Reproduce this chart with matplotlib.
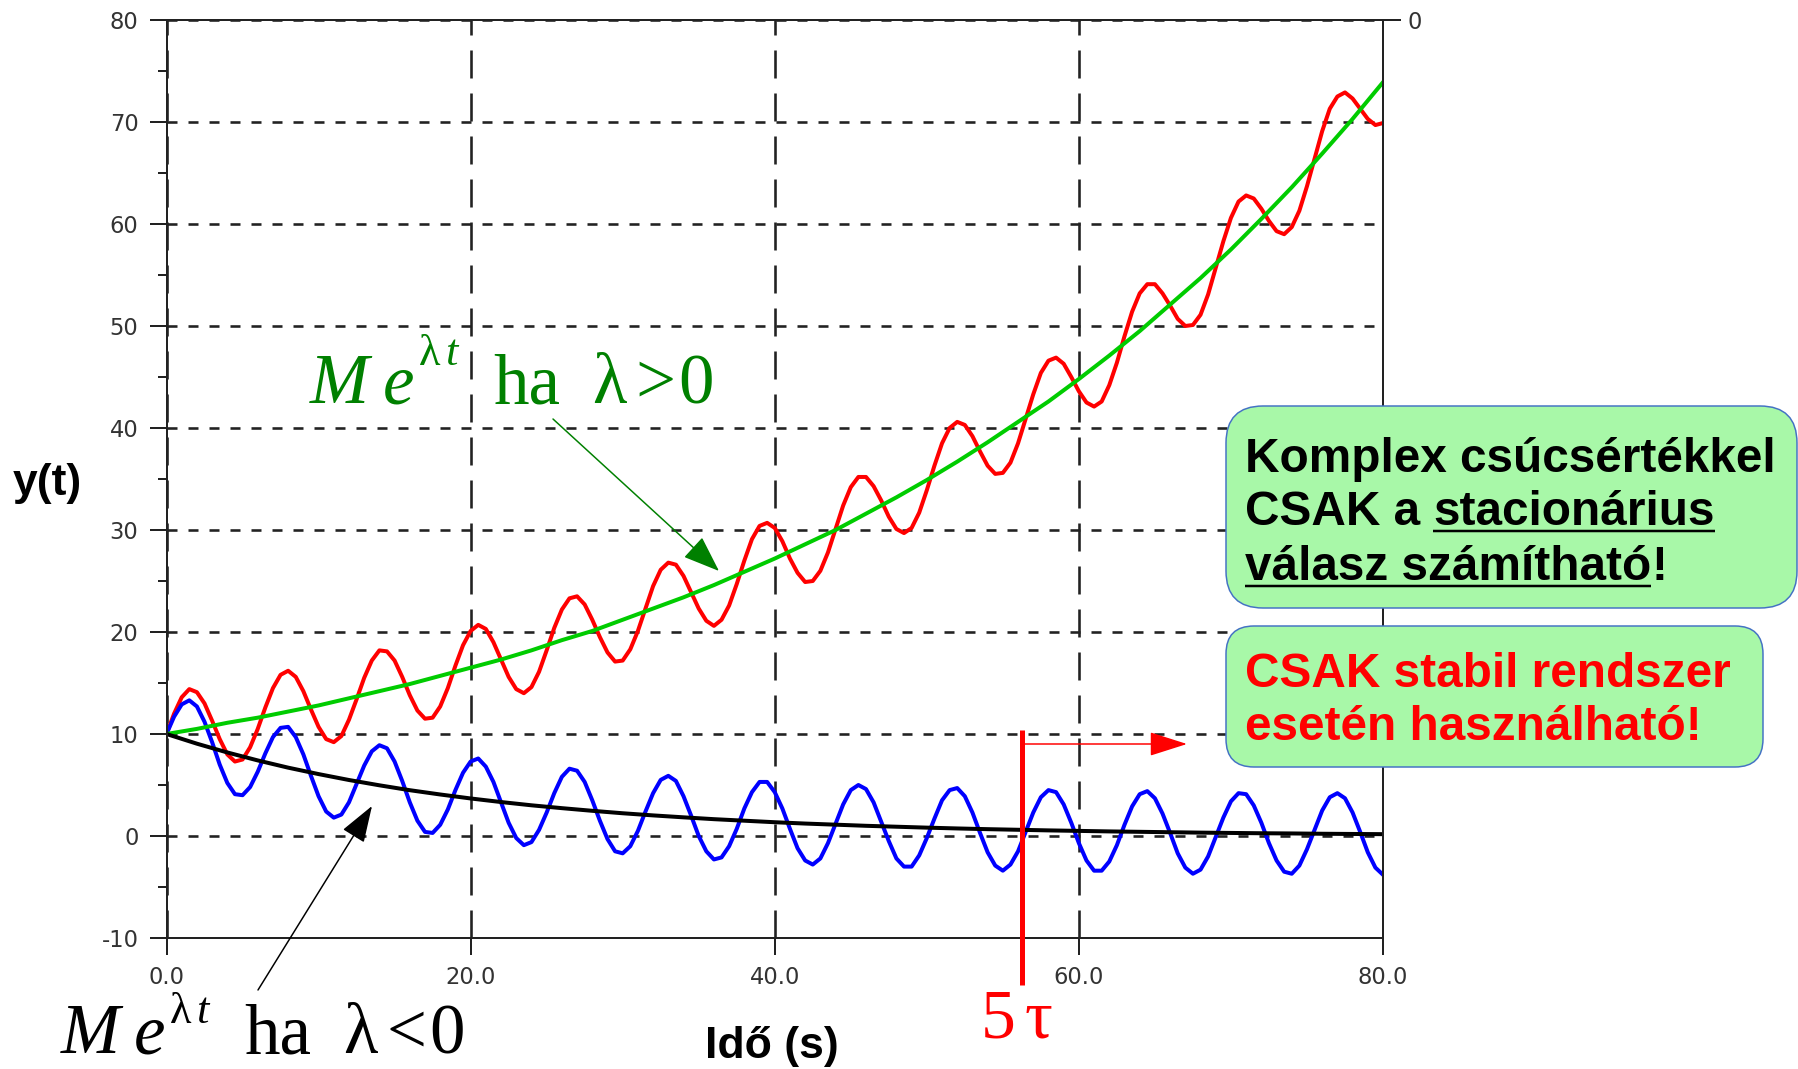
import numpy as np
import matplotlib
matplotlib.use('Agg')
import matplotlib.pyplot as plt
from matplotlib.lines import Line2D
from matplotlib.patches import FancyBboxPatch, FancyArrowPatch
from matplotlib.transforms import IdentityTransform

W, H, DPI = 1798, 1069, 100
PX = 72.0 / DPI  # points per pixel
plt.rcParams['lines.scale_dashes'] = False
plt.rcParams['font.family'] = ['DejaVu Sans']
plt.rcParams['axes.unicode_minus'] = False

# ---- data ----
time_fast = np.linspace(0, 80, 161)   # sample times of the oscillating curves (s)
time_slow = np.linspace(0, 80, 41)    # sample times of the envelope curves (s)

red_osc = [10.0, 12.0, 13.6, 14.4, 14.1, 13.0, 11.3, 9.5, 8.0, 7.3,
           7.5, 8.7, 10.5, 12.6, 14.5, 15.8, 16.2, 15.6, 14.2, 12.4,
           10.7, 9.5, 9.2, 9.8, 11.4, 13.4, 15.5, 17.2, 18.2, 18.1,
           17.2, 15.6, 13.8, 12.3, 11.5, 11.6, 12.7, 14.5, 16.7, 18.7,
           20.1, 20.7, 20.3, 19.0, 17.3, 15.6, 14.4, 14.0, 14.6, 16.1,
           18.2, 20.4, 22.2, 23.3, 23.5, 22.7, 21.2, 19.5, 18.0, 17.1,
           17.2, 18.3, 20.1, 22.3, 24.5, 26.1, 26.8, 26.6, 25.5, 23.9,
           22.3, 21.1, 20.6, 21.2, 22.6, 24.7, 27.0, 29.1, 30.4, 30.7,
           30.2, 28.9, 27.2, 25.8, 24.9, 25.0, 26.0, 27.8, 30.1, 32.4,
           34.2, 35.2, 35.2, 34.3, 32.9, 31.3, 30.1, 29.7, 30.2, 31.7,
           33.9, 36.3, 38.5, 40.0, 40.6, 40.3, 39.2, 37.7, 36.3, 35.5,
           35.6, 36.6, 38.5, 40.9, 43.3, 45.4, 46.6, 46.9, 46.3, 45.0,
           43.6, 42.5, 42.1, 42.6, 44.2, 46.4, 49.0, 51.4, 53.2, 54.1,
           54.1, 53.2, 52.0, 50.7, 50.0, 50.1, 51.1, 53.1, 55.7, 58.3,
           60.6, 62.2, 62.8, 62.5, 61.5, 60.3, 59.3, 59.0, 59.7, 61.3,
           63.7, 66.4, 69.1, 71.3, 72.5, 72.9, 72.3, 71.3, 70.3, 69.7,
           69.9]

blue_osc = [10.0, 11.7, 12.9, 13.3, 12.7, 11.2, 9.2, 7.0, 5.2, 4.1,
            4.0, 4.8, 6.3, 8.1, 9.7, 10.6, 10.7, 9.7, 8.0, 5.9,
            3.9, 2.4, 1.8, 2.1, 3.3, 5.1, 6.9, 8.3, 8.9, 8.6,
            7.3, 5.4, 3.3, 1.5, 0.4, 0.3, 1.1, 2.6, 4.5, 6.2,
            7.3, 7.6, 6.8, 5.3, 3.3, 1.3, -0.2, -0.9, -0.6, 0.6,
            2.3, 4.2, 5.8, 6.6, 6.4, 5.3, 3.5, 1.5, -0.3, -1.5,
            -1.7, -1.0, 0.5, 2.4, 4.2, 5.5, 5.9, 5.4, 3.9, 2.0,
            0.0, -1.5, -2.3, -2.1, -1.0, 0.7, 2.7, 4.3, 5.3, 5.3,
            4.3, 2.7, 0.7, -1.2, -2.4, -2.8, -2.2, -0.7, 1.2, 3.1,
            4.5, 5.0, 4.6, 3.3, 1.4, -0.5, -2.2, -3.0, -3.0, -1.9,
            -0.2, 1.7, 3.5, 4.5, 4.7, 3.9, 2.3, 0.3, -1.6, -2.9,
            -3.4, -2.8, -1.5, 0.4, 2.3, 3.8, 4.5, 4.3, 3.1, 1.3,
            -0.7, -2.4, -3.4, -3.4, -2.5, -0.9, 1.1, 2.9, 4.1, 4.4,
            3.7, 2.2, 0.3, -1.7, -3.1, -3.7, -3.3, -2.0, -0.1, 1.8,
            3.4, 4.2, 4.1, 3.0, 1.3, -0.7, -2.4, -3.5, -3.7, -2.9,
            -1.3, 0.6, 2.5, 3.8, 4.2, 3.7, 2.3, 0.4, -1.6, -3.1,
            -3.8]

green_env = [10.0, 10.5, 11.1, 11.6, 12.2, 12.8, 13.5, 14.2, 14.9, 15.7,
             16.5, 17.3, 18.2, 19.2, 20.1, 21.2, 22.3, 23.4, 24.6, 25.9,
             27.2, 28.6, 30.0, 31.6, 33.2, 34.9, 36.7, 38.6, 40.6, 42.6,
             44.8, 47.1, 49.5, 52.1, 54.7, 57.5, 60.5, 63.6, 66.9, 70.3,
             73.9]

black_env = [10.00, 9.05, 8.19, 7.41, 6.70, 6.07, 5.49, 4.97, 4.49, 4.07,
             3.68, 3.33, 3.01, 2.73, 2.47, 2.23, 2.02, 1.83, 1.65, 1.50,
             1.35, 1.22, 1.11, 1.00, 0.91, 0.82, 0.74, 0.67, 0.61, 0.55,
             0.50, 0.45, 0.41, 0.37, 0.33, 0.30, 0.27, 0.25, 0.22, 0.20,
             0.18]

x_ticks = [0, 20, 40, 60, 80]
x_labels = ['0.0', '20.0', '40.0', '60.0', '80.0']
y_ticks = [-10, 0, 10, 20, 30, 40, 50, 60, 70, 80]
y_labels = ['-10', '0', '10', '20', '30', '40', '50', '60', '70', '80']

# ---- figure ----
fig = plt.figure(figsize=(W / DPI, H / DPI), dpi=DPI)
L, R, T, B = 166.5, 1383, 20, 938
ax = fig.add_axes([L / W, 1 - B / H, (R - L) / W, (B - T) / H])
ax.plot(time_fast, red_osc, color='#ff0000', lw=4 * PX, zorder=3)
ax.plot(time_slow, green_env, color='#00cc00', lw=4 * PX, zorder=4)
ax.plot(time_fast, blue_osc, color='#0000ff', lw=4 * PX, zorder=3)
ax.plot(time_slow, black_env, color='#000000', lw=4 * PX, zorder=4)
ax.set_xlim(0, 80)
ax.set_ylim(-10, 80)
ax.set_xticks(x_ticks)
ax.set_xticklabels(x_labels)
ax.set_yticks(y_ticks)
ax.set_yticklabels(y_labels)
ax.set_yticks([v + 5 for v in y_ticks[:-1]], minor=True)
ax.tick_params(axis='both', which='major', direction='out', length=17 * PX,
               width=2 * PX, color='#222222', labelsize=16.3, labelcolor='#333333', pad=8)
ax.tick_params(axis='y', which='minor', direction='out', length=9 * PX,
               width=2 * PX, color='#222222')
for s in ax.spines.values():
    s.set_linewidth(2 * PX)
    s.set_color('#222222')
ax.yaxis.grid(True, linestyle=(0, (10 * PX, 11 * PX)), color='#222222', lw=2.6 * PX)
ax.xaxis.grid(True, linestyle=(0, (28 * PX, 15 * PX)), color='#222222', lw=2.6 * PX)

ax2 = ax.twinx()
ax2.set_ylim(-10, 80)
ax2.set_yticks([80])
ax2.set_yticklabels(['0'])
ax2.tick_params(axis='y', direction='out', length=18 * PX, width=2 * PX, color='#222222',
                labelsize=16.3, labelcolor='#333333', pad=5)
for s in ax2.spines.values():
    s.set_linewidth(2 * PX)
    s.set_color('#222222')

def ft(x, y, s, **kw):
    return fig.text(x / W, 1 - y / H, s, **kw)

ft(13, 495, 'y(t)', family='Liberation Sans', weight='bold', fontsize=32, va='baseline', ha='left')
ft(772, 1058, 'Idő (s)', family='Liberation Sans', weight='bold', fontsize=32, va='baseline', ha='center')

def formula(x0, base, color, rel, sup):
    pieces = [('M', 0, 0, 'italic', 51), ('e', 73, 0, 'italic', 51),
              ('λ', 109, sup, 'normal', 32), ('t', 135, sup, 'italic', 32),
              ('ha', 183, 0, 'normal', 51), ('λ', 282, 0, 'normal', 51),
              (rel, 325, 0, 'normal', 51), ('0', 368, 0, 'normal', 51)]
    for s, dx, dy, style, size in pieces:
        ft(x0 + dx, base - dy, s, family='Liberation Serif', style=style,
           fontsize=size, color=color, va='baseline', ha='left')

formula(310, 403, '#008000', '>', 38)
formula(61, 1053, '#000000', '<', 30)

ft(981, 1037, '5', family='Liberation Serif', fontsize=50, color='#ff0000', va='baseline', ha='left')
ft(1025, 1037, 'τ', family='Liberation Serif', fontsize=50, color='#ff0000', va='baseline', ha='left')

fig.add_artist(Line2D([1022, 1022], [H - 730, H - 985], transform=IdentityTransform(),
                      lw=5 * PX, color='#ff0000', solid_capstyle='butt'))

def arrow(x0, y0, x1, y1, color, lw, hl, hw):
    fig.add_artist(FancyArrowPatch((x0, H - y0), (x1, H - y1), transform=IdentityTransform(),
                                   arrowstyle=f'-|>,head_length={hl * PX},head_width={hw * PX}',
                                   mutation_scale=1, lw=lw * PX, color=color,
                                   shrinkA=0, shrinkB=0))

arrow(553, 419, 719, 571, '#008000', 1.5, 32, 12)
arrow(258, 990, 372, 806, '#000000', 1.5, 32, 11)
arrow(1024, 744, 1187, 744, '#ff0000', 1.5, 33, 10.5)

def box(x0, y0, x1, y1, r):
    fig.add_artist(FancyBboxPatch((x0, H - y1), x1 - x0, y1 - y0,
                                  boxstyle=f'round,pad=0,rounding_size={r}',
                                  transform=IdentityTransform(), facecolor='#a8f8a8',
                                  edgecolor='#4472c4', lw=1.5 * PX))

box(1226, 406, 1797, 608, 37)
box(1226, 626, 1763, 767, 28)

renderer = fig.canvas.get_renderer()
bk = dict(family='Liberation Sans', weight='bold', fontsize=34.4, va='baseline', ha='left')

def underline(x0, x1, y):
    fig.add_artist(Line2D([x0, x1], [H - y, H - y], transform=IdentityTransform(),
                          lw=2.5 * PX, color='#000000', solid_capstyle='butt'))

ft(1245, 472, 'Komplex csúcsértékkel', color='#000000', **bk)
a = ft(1245, 525, 'CSAK a ', color='#000000', **bk)
ea = a.get_window_extent(renderer)
b = ft(ea.x1, 525, 'stacionárius', color='#000000', **bk)
eb = b.get_window_extent(renderer)
underline(eb.x0, eb.x1, 531)
c = ft(1245, 580, 'válasz számítható', color='#000000', **bk)
ec = c.get_window_extent(renderer)
underline(ec.x0, ec.x1, 586)
ft(ec.x1, 580, '!', color='#000000', **bk)
ft(1245, 687, 'CSAK stabil rendszer', color='#ff0000', **bk)
ft(1245, 740, 'esetén használható!', color='#ff0000', **bk)

fig.savefig('out.png', dpi=DPI)
